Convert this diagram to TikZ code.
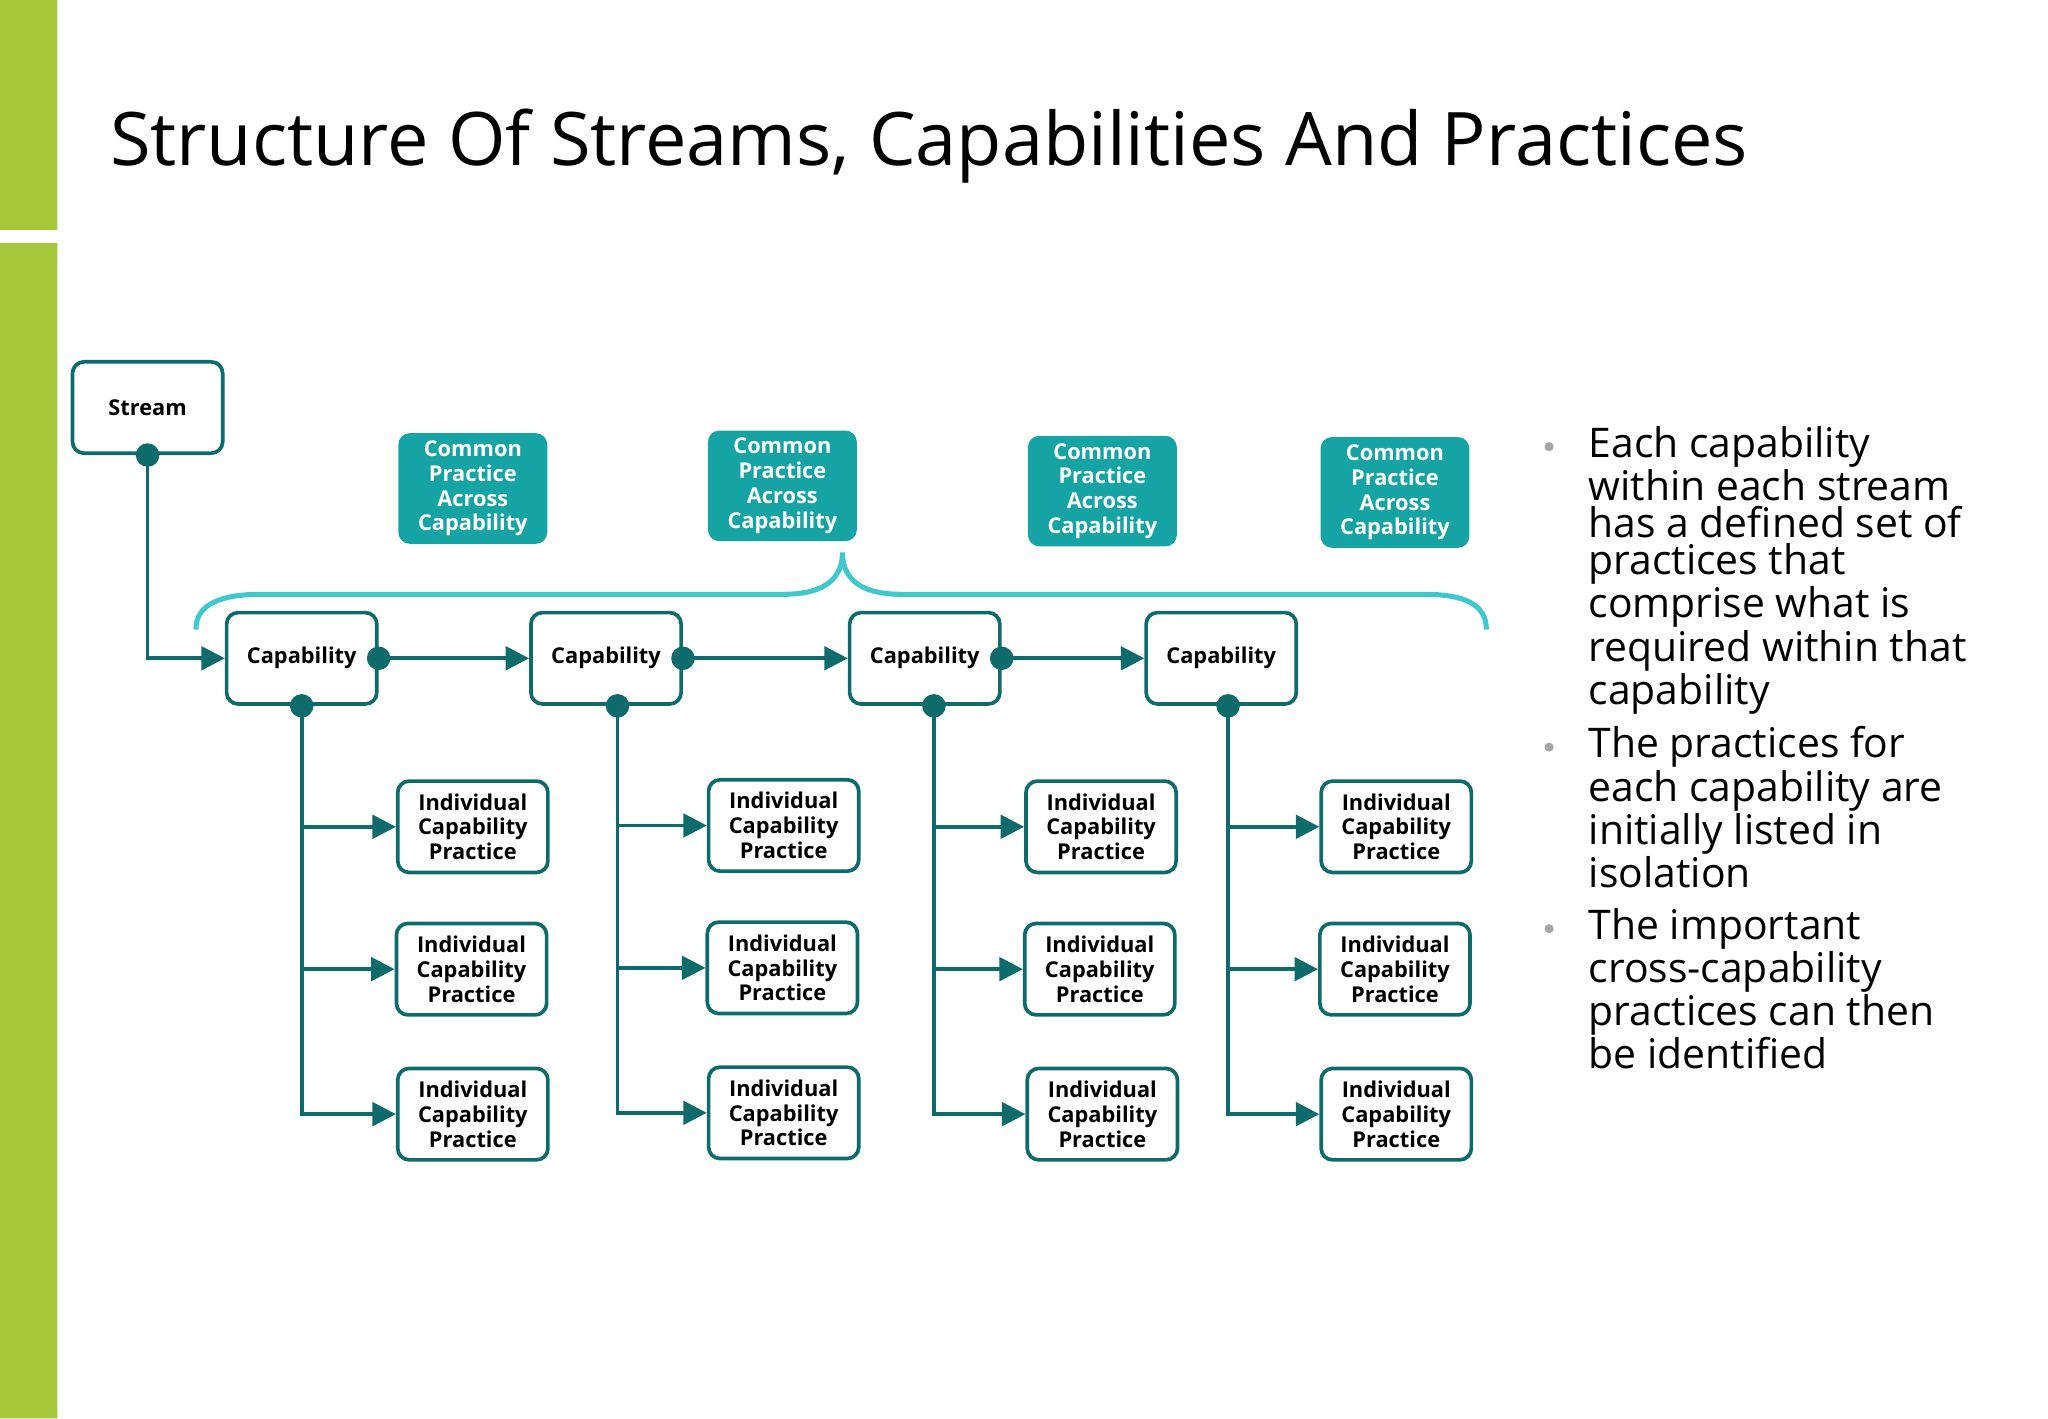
\documentclass[tikz,border=0pt]{standalone}
\usepackage{fontspec}
\setmainfont{Open Sans}
\usetikzlibrary{arrows.meta,positioning}
\definecolor{dteal}{HTML}{0E6B6B}
\definecolor{mteal}{HTML}{15A3A3}
\definecolor{lteal}{HTML}{3FC9CC}
\definecolor{lgreen}{HTML}{A5C73A}
\tikzset{
  box/.style={draw=dteal,line width=1.6pt,rounded corners=5pt,fill=white,
    minimum width=2.3cm,minimum height=1.4cm,align=center,
    font=\fontsize{9.5}{10.8}\selectfont\bfseries},
  cbox/.style={box,draw=none,fill=mteal,text=white,minimum height=1.64cm,minimum width=2.28cm},
  link/.style={dteal,line width=1.6pt},
  dot/.style={circle,fill=dteal,inner sep=0pt,minimum size=0.36cm},
  txt/.style={anchor=north west,align=left,inner sep=0pt,font=\fontsize{17.8}{16.2}\selectfont},
}
\begin{document}
\begin{tikzpicture}[>={Triangle[length=0.36cm,width=0.36cm]},x=0.02cm,y=-0.02cm]
\useasboundingbox (0,0) rectangle (1568,1086);
\fill[lgreen] (0,0) rectangle (44,176) (0,186) rectangle (44,1086);
\node[anchor=base west,inner sep=0pt,font=\fontsize{32.2}{38}\selectfont] (title) at (84,127) {Structure Of Streams, Capabilities And Practices};
%
\node[box] (strm) at (113,312) {Stream};
\node[box] (cap1) at (231,504) {Capability};
\node[box] (cap2) at (464,504) {Capability};
\node[box] (cap3) at (708,504) {Capability};
\node[box] (cap4) at (935,504) {Capability};
%
\node[cbox] (cmn1) at (362,374) {Common\\Practice\\Across\\Capability};
\node[cbox] (cmn2) at (599,372) {Common\\Practice\\Across\\Capability};
\node[cbox] (cmn3) at (844,376) {Common\\Practice\\Across\\Capability};
\node[cbox] (cmn4) at (1068,377) {Common\\Practice\\Across\\Capability};
\draw[lteal,line width=2.2pt] (150,482) .. controls (150,462) and (170,455) .. (200,455)
  -- (600,455) .. controls (635,455) and (645,440) .. (645,423)
  .. controls (645,440) and (655,455) .. (690,455) -- (1090,455)
  .. controls (1120,455) and (1138,462) .. (1138,482);
%
\node[box] (p11) at (362,633) {Individual\\Capability\\Practice};
\node[box] (p12) at (361,742) {Individual\\Capability\\Practice};
\node[box] (p13) at (362,853) {Individual\\Capability\\Practice};
\node[box] (p21) at (600,632) {Individual\\Capability\\Practice};
\node[box] (p22) at (599,741) {Individual\\Capability\\Practice};
\node[box] (p23) at (600,852) {Individual\\Capability\\Practice};
\node[box] (p31) at (843,633) {Individual\\Capability\\Practice};
\node[box] (p32) at (842,742) {Individual\\Capability\\Practice};
\node[box] (p33) at (844,853) {Individual\\Capability\\Practice};
\node[box] (p41) at (1069,633) {Individual\\Capability\\Practice};
\node[box] (p42) at (1068,742) {Individual\\Capability\\Practice};
\node[box] (p43) at (1069,853) {Individual\\Capability\\Practice};
%
\coordinate (s0) at (strm.south);
\coordinate (b1) at (cap1.south); \coordinate (b2) at ([xshift=5]cap2.south);
\coordinate (b3) at ([xshift=4]cap3.south); \coordinate (b4) at ([xshift=3]cap4.south);
\draw[link,->] (s0) |- (cap1.west);
\draw[link,->] (cap1.east) -- (cap2.west); \draw[link,->] (cap2.east) -- (cap3.west);
\draw[link,->] (cap3.east) -- (cap4.west);
\draw[link,->] (b1) |- (p13.west); \draw[link,->] (b1 |- p11) -- (p11.west); \draw[link,->] (b1 |- p12) -- (p12.west);
\draw[link,->] (b2) |- (p23.west); \draw[link,->] (b2 |- p21) -- (p21.west); \draw[link,->] (b2 |- p22) -- (p22.west);
\draw[link,->] (b3) |- (p33.west); \draw[link,->] (b3 |- p31) -- (p31.west); \draw[link,->] (b3 |- p32) -- (p32.west);
\draw[link,->] (b4) |- (p43.west); \draw[link,->] (b4 |- p41) -- (p41.west); \draw[link,->] (b4 |- p42) -- (p42.west);
\node[dot] at (s0) {}; \node[dot] at (b1) {}; \node[dot] at (b2) {}; \node[dot] at (b3) {}; \node[dot] at (b4) {};
\node[dot] at (cap1.east) {}; \node[dot] at (cap2.east) {}; \node[dot] at (cap3.east) {};
%
\node[txt] (t1) at (1216,326) {Each capability\\within each stream\\has a defined set of\\practices that\\comprise what is\\required within that\\capability};
\node[txt] (t2) at (1216,556) {The practices for\\each capability are\\initially listed in\\isolation};
\node[txt] (t3) at (1216,695) {The important\\cross-capability\\practices can then\\be identified};
\fill[gray!70] (1186,342) circle (3.5) (1186,572) circle (3.5) (1186,711) circle (3.5);
\end{tikzpicture}
\end{document}
